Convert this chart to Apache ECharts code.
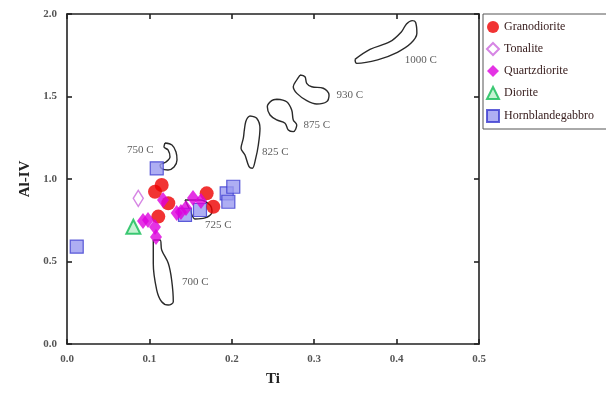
<!DOCTYPE html>
<html><head><meta charset="utf-8">
<script src="https://cdn.jsdelivr.net/npm/echarts@6/dist/echarts.min.js"></script>
<style>html,body{margin:0;padding:0;background:#fff}#c{width:606px;height:396px}</style>
</head><body><div id="c"></div>
<script>
// x ticks and y ticks
const xTicks = [0, 0.1, 0.2, 0.3, 0.4, 0.5];
const yTicks = [0, 0.5, 1.0, 1.5, 2.0];

// sample points [Ti, Al-IV]
const granodiorite = [[0.1068,0.923],[0.1149,0.964],[0.1229,0.853],[0.1108,0.772],[0.1695,0.913],[0.1776,0.832]];
const tonalite = [[0.0865,0.883]];
const quartzdiorite = [[0.1165,0.873],[0.0983,0.752],[0.1068,0.709],[0.108,0.648],[0.1331,0.794],[0.1444,0.824],[0.1529,0.885],[0.1626,0.867],[0.1383,0.800],[0.0922,0.745]];
const diorite = [[0.0805,0.711]];
const hornblendegabbro = [[0.0118,0.590],[0.1089,1.065],[0.1432,0.782],[0.1614,0.812],[0.1938,0.913],[0.2018,0.953],[0.1958,0.862]];

// temperature contours (closed outlines) [Ti, Al-IV]
const c1000 = [[0.3495,1.725],[0.3677,1.785],[0.392,1.832],[0.406,1.893],[0.412,1.940],[0.419,1.960],[0.423,1.950],[0.4246,1.883],[0.4173,1.822],[0.401,1.768],[0.377,1.722],[0.3516,1.701],[0.3495,1.725]];
const c930 = [[0.2828,1.630],[0.2888,1.620],[0.2909,1.580],[0.297,1.559],[0.311,1.550],[0.318,1.509],[0.315,1.468],[0.303,1.455],[0.291,1.475],[0.279,1.519],[0.2746,1.559],[0.2788,1.600],[0.2828,1.630]];
const c875 = [[0.2545,1.483],[0.2666,1.468],[0.2727,1.418],[0.2746,1.358],[0.2788,1.327],[0.2746,1.287],[0.2686,1.297],[0.2646,1.338],[0.2545,1.358],[0.2464,1.388],[0.2431,1.438],[0.2484,1.475],[0.2545,1.483]];
const c825 = [[0.2221,1.382],[0.2302,1.368],[0.2342,1.307],[0.2322,1.206],[0.229,1.125],[0.2249,1.065],[0.2209,1.075],[0.216,1.145],[0.2112,1.186],[0.214,1.247],[0.2152,1.297],[0.2169,1.347],[0.2193,1.372],[0.2221,1.382]];
const c750 = [[0.1189,1.218],[0.1274,1.206],[0.1323,1.164],[0.1335,1.115],[0.1299,1.073],[0.1226,1.055],[0.1153,1.061],[0.1129,1.085],[0.1201,1.103],[0.125,1.133],[0.1226,1.176],[0.1177,1.194],[0.1189,1.218]];
const c725 = [[0.1432,0.873],[0.1493,0.812],[0.1553,0.758],[0.1675,0.764],[0.176,0.800],[0.1735,0.842],[0.1614,0.873],[0.1432,0.873]];
const c700 = [[0.1047,0.630],[0.1047,0.489],[0.1089,0.327],[0.1149,0.256],[0.1229,0.236],[0.129,0.256],[0.127,0.388],[0.1229,0.489],[0.1149,0.570],[0.1129,0.630],[0.1047,0.630]];

// contour labels [Ti, Al-IV, text]
const contourLabels = [[0.41,1.72,'1000 C'],[0.327,1.509,'930 C'],[0.287,1.327,'875 C'],[0.2367,1.164,'825 C'],[0.0728,1.176,'750 C'],[0.1675,0.721,'725 C'],[0.1396,0.376,'700 C']];

const serif = 'Liberation Serif';
const chart = echarts.init(document.getElementById('c'));
const contourSeries = [c1000,c930,c875,c825,c750,c725,c700].map(d => ({
  type:'line', data:d, symbol:'none', smooth:0.35, silent:true, z:1,
  lineStyle:{color:'#2a2a2a', width:1.4}
}));
const axisCommon = {
  min:0, axisLine:{show:true, onZero:false, lineStyle:{color:'#222', width:1.6}},
  axisTick:{show:true, inside:true, length:5, lineStyle:{color:'#222', width:1.6}},
  splitLine:{show:false}
};
chart.setOption({
  animation:false,
  backgroundColor:'#fff',
  grid:{left:67, right:127, top:14, bottom:52},
  legend:{
    orient:'vertical', left:483, top:14, itemGap:9, itemWidth:12, itemHeight:12,
    padding:[7,14,6,3], borderColor:'#555', borderWidth:1,
    textStyle:{fontFamily:serif, fontSize:12, color:'#3a2020'},
    data:['Granodiorite','Tonalite','Quartzdiorite','Diorite','Hornblandegabbro']
  },
  xAxis:[
    Object.assign({}, axisCommon, {type:'value', max:0.5, interval:0.1, position:'bottom',
      name:'Ti', nameLocation:'middle', nameGap:28,
      nameTextStyle:{fontFamily:serif, fontWeight:'bold', fontSize:15, color:'#222'},
      axisLabel:{fontFamily:serif, fontWeight:'bold', fontSize:11, color:'#555', margin:10,
        formatter:v => xTicks.includes(Math.round(v*10)/10) ? v.toFixed(1) : ''}}),
    Object.assign({}, axisCommon, {type:'value', max:0.5, interval:0.1, position:'top', axisLabel:{show:false}})
  ],
  yAxis:[
    Object.assign({}, axisCommon, {type:'value', max:2, interval:0.5, position:'left',
      name:'Al-IV', nameLocation:'middle', nameGap:31, nameRotate:90,
      nameTextStyle:{fontFamily:serif, fontWeight:'bold', fontSize:15, color:'#222'},
      axisLabel:{fontFamily:serif, fontWeight:'bold', fontSize:11, color:'#555', margin:10,
        formatter:v => yTicks.includes(v) ? v.toFixed(1) : ''}}),
    Object.assign({}, axisCommon, {type:'value', max:2, interval:0.5, position:'right', axisLabel:{show:false}})
  ],
  series: contourSeries.concat([
    {type:'scatter', name:'contour labels', data:contourLabels, symbolSize:0, silent:true, z:2,
      label:{show:true, position:'right', distance:0, formatter:p => p.data[2],
        fontFamily:serif, fontSize:11, color:'#333'}},
    {type:'scatter', name:'Hornblandegabbro', data:hornblendegabbro, symbol:'rect', symbolSize:13, z:3,
      itemStyle:{color:'#9a9af0', borderColor:'#3a3ad0', borderWidth:1.2}},
    {type:'scatter', name:'Granodiorite', data:granodiorite, symbol:'circle', symbolSize:14, z:4,
      itemStyle:{color:'#ee0000'}},
    {type:'scatter', name:'Quartzdiorite', data:quartzdiorite, symbol:'diamond', symbolSize:[12,16], z:5,
      itemStyle:{color:'#dd00dd'}},
    {type:'scatter', name:'Tonalite', data:tonalite, symbol:'diamond', symbolSize:[10,16], z:5,
      itemStyle:{color:'#ffffff', borderColor:'#cc66dd', borderWidth:1.5}},
    {type:'scatter', name:'Diorite', data:diorite, symbol:'triangle', symbolSize:14, z:5,
      itemStyle:{color:'#b8f0c8', borderColor:'#11bb55', borderWidth:2}}
  ])
});
</script></body></html>
